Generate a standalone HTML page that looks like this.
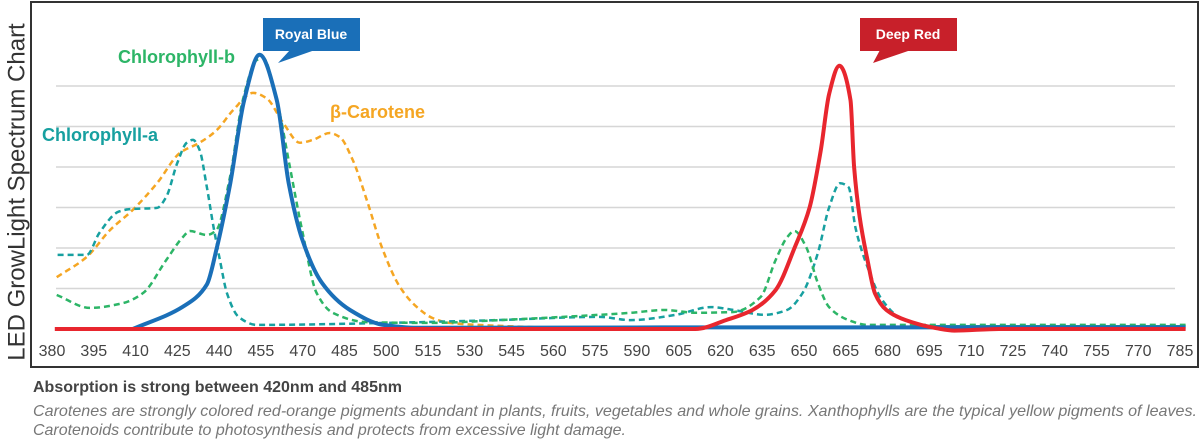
<!DOCTYPE html>
<html><head><meta charset="utf-8">
<style>
html,body{margin:0;padding:0;background:#fff;width:1200px;height:440px;overflow:hidden;font-family:"Liberation Sans",sans-serif}
svg{position:absolute;left:0;top:0}
</style></head>
<body>
<svg id="chart" width="1200" height="440" viewBox="0 0 1200 440">
  <rect x="31" y="2" width="1167" height="365" fill="none" stroke="#333" stroke-width="2"/>
  <g id="grid"></g>
  <g id="xticks"></g>
  <g id="series"></g>
  <text x="18" y="192" transform="rotate(-90 18 192)" text-anchor="middle" font-size="24" fill="#333" dominant-baseline="middle">LED GrowLight Spectrum Chart</text>
  <text x="118" y="63" font-size="18" font-weight="bold" fill="#2db567">Chlorophyll-b</text>
  <text x="42" y="141" font-size="18" font-weight="bold" fill="#17a0a0">Chlorophyll-a</text>
  <text x="330" y="118" font-size="18" font-weight="bold" fill="#f5a623">β-Carotene</text>
  <g>
    <rect x="263" y="18" width="97" height="33" fill="#1a6fb8"/>
    <polygon points="290,50 315,50 278,63" fill="#1a6fb8"/>
    <text x="311" y="39" font-size="14" font-weight="bold" fill="#fff" text-anchor="middle">Royal Blue</text>
  </g>
  <g>
    <rect x="860" y="18" width="97" height="33" fill="#c8202a"/>
    <polygon points="880,50 911,50 873,63" fill="#c8202a"/>
    <text x="908" y="39" font-size="14" font-weight="bold" fill="#fff" text-anchor="middle">Deep Red</text>
  </g>
  <text x="33" y="392" font-size="16" font-weight="bold" fill="#444">Absorption is strong between 420nm and 485nm</text>
  <text x="33" y="416" font-size="16" font-style="italic" fill="#777" textLength="1164" lengthAdjust="spacingAndGlyphs">Carotenes are strongly colored red-orange pigments abundant in  plants, fruits, vegetables and whole grains. Xanthophylls are the  typical yellow pigments of leaves.</text>
  <text x="33" y="435" font-size="16" font-style="italic" fill="#777" textLength="593" lengthAdjust="spacingAndGlyphs">Carotenoids contribute to  photosynthesis and protects from excessive light damage.</text>
</svg>
<script>
const xTicks = [380,395,410,425,440,455,470,485,500,515,530,545,560,575,590,605,620,635,650,665,680,695,710,725,740,755,770,785];
const gridValues = [1,2,3,4,5,6];
const chlA = [[382,1.83],[392.5,1.83],[397,2.37],[404,2.9],[408,2.96],[417.7,2.99],[421,3.26],[425,4.1],[428.4,4.6],[430.6,4.67],[433,4.42],[435.6,3.5],[438,2.52],[440.3,1.7],[442.8,0.89],[447,0.3],[453.5,0.1],[500,0.15],[540,0.22],[576.6,0.3],[587.7,0.22],[604,0.35],[616.5,0.54],[624.7,0.47],[635.7,0.35],[643.9,0.47],[649.5,0.89],[655,1.88],[659,3.0],[663,3.6],[666,3.5],[668.5,2.5],[672.8,1.53],[678,0.72],[686,0.22],[697.5,0.07],[740,0.07],[787,0.07]];
const chlB = [[381.7,0.84],[393.6,0.52],[405.5,0.64],[412.7,0.89],[421,1.7],[427,2.27],[429.5,2.42],[435.6,2.32],[439,2.44],[443.9,3.75],[448.5,5.65],[453.5,6.64],[455.7,6.7],[460.7,5.65],[465.4,4.0],[470,2.37],[475,0.89],[480.8,0.4],[493,0.17],[516.7,0.15],[540.7,0.22],[576.6,0.35],[587.7,0.4],[600,0.47],[611,0.4],[624.7,0.42],[634.4,0.79],[639.8,1.7],[644,2.27],[646.6,2.42],[650.8,2.02],[655,1.13],[659,0.54],[666,0.22],[672.8,0.1],[740,0.1],[787,0.1]];
const carotene = [[381.7,1.28],[392.5,1.78],[400.8,2.44],[409,2.94],[417.7,3.6],[426,4.35],[433,4.6],[439,4.9],[445,5.4],[452.2,5.83],[457,5.7],[462.9,5.1],[469,4.6],[473.7,4.67],[479.7,4.84],[483.3,4.74],[488,4.17],[493,3.19],[498.8,1.95],[504.9,1.04],[511,0.54],[516.7,0.27],[522.8,0.15],[540,0.08],[560,0.03]];
const royalBlue = [[409,0],[427,0.55],[435.6,1.1],[439,1.95],[444,3.6],[449,5.65],[454.5,6.77],[460.7,5.65],[465,3.6],[469.9,2.2],[477,1.13],[487,0.47],[499,0.1],[511,0.03],[600,0.04],[787,0.04]];
const deepRed = [[381,0],[611,0],[622,0.22],[631.5,0.47],[639.8,0.96],[646.6,2.0],[652,3.0],[656,4.4],[659,5.8],[662.7,6.5],[666.7,5.65],[668,4.0],[670,2.76],[672.8,1.7],[675.5,0.88],[679.6,0.47],[686.5,0.22],[697.5,0.02],[704,-0.04],[720,0],[787,0]];

const NS='http://www.w3.org/2000/svg';
const xs = v => 52 + (v-380)*(1180-52)/(785-380);
const ys = v => 329 - v*40.5;
function path(pts){
  const p = pts.map(d=>[xs(d[0]),ys(d[1])]);
  const n=p.length, d=[], m=[];
  for(let i=0;i<n-1;i++) d.push((p[i+1][1]-p[i][1])/(p[i+1][0]-p[i][0]));
  m[0]=d[0]; m[n-1]=d[n-2];
  for(let i=1;i<n-1;i++){
    if(d[i-1]*d[i]<=0) m[i]=0;
    else { const h0=p[i][0]-p[i-1][0], h1=p[i+1][0]-p[i][0];
      const w1=2*h1+h0, w2=h1+2*h0; m[i]=(w1+w2)/(w1/d[i-1]+w2/d[i]); }
  }
  let s='M'+p[0][0].toFixed(1)+','+p[0][1].toFixed(1);
  for(let i=0;i<n-1;i++){
    const h=(p[i+1][0]-p[i][0])/3;
    s+=' C'+(p[i][0]+h).toFixed(1)+','+(p[i][1]+m[i]*h).toFixed(1)+' '+(p[i+1][0]-h).toFixed(1)+','+(p[i+1][1]-m[i+1]*h).toFixed(1)+' '+p[i+1][0].toFixed(1)+','+p[i+1][1].toFixed(1);
  }
  return s;
}
const grid=document.getElementById('grid');
gridValues.forEach(g=>{
  const l=document.createElementNS(NS,'line');
  
  
  l.setAttribute('x1',56);l.setAttribute('x2',1175);
  l.setAttribute('y1',ys(g));l.setAttribute('y2',ys(g));
  l.setAttribute('stroke','#d6d6d6');l.setAttribute('stroke-width','1.5');
  grid.appendChild(l);
});
const xt=document.getElementById('xticks');
xTicks.forEach(t=>{
  const e=document.createElementNS(NS,'text');
  
  
  e.setAttribute('x',xs(t));e.setAttribute('y',356);
  e.setAttribute('text-anchor','middle');e.setAttribute('font-size','16');e.setAttribute('fill','#444');
  e.textContent=t;xt.appendChild(e);
});
const ser=document.getElementById('series');
function add(pts,color,w,dash,name){
  const e=document.createElementNS(NS,'path');
  
  
  e.setAttribute('d',path(pts));e.setAttribute('fill','none');
  e.setAttribute('stroke',color);e.setAttribute('stroke-width',w);
  e.setAttribute('stroke-linejoin','round');
  if(dash)e.setAttribute('stroke-dasharray',dash);
  ser.appendChild(e);
}
add(carotene,'#f5a623',2.5,'6 4','beta-carotene-line');
add(chlA,'#17a0a0',2.5,'6 4','chlorophyll-a-line');
add(chlB,'#2db567',2.5,'6 4','chlorophyll-b-line');
add(royalBlue,'#1a6fb8',4,null,'royal-blue-line');
add(deepRed,'#e8262e',4,null,'deep-red-line');
</script>
</body></html>
